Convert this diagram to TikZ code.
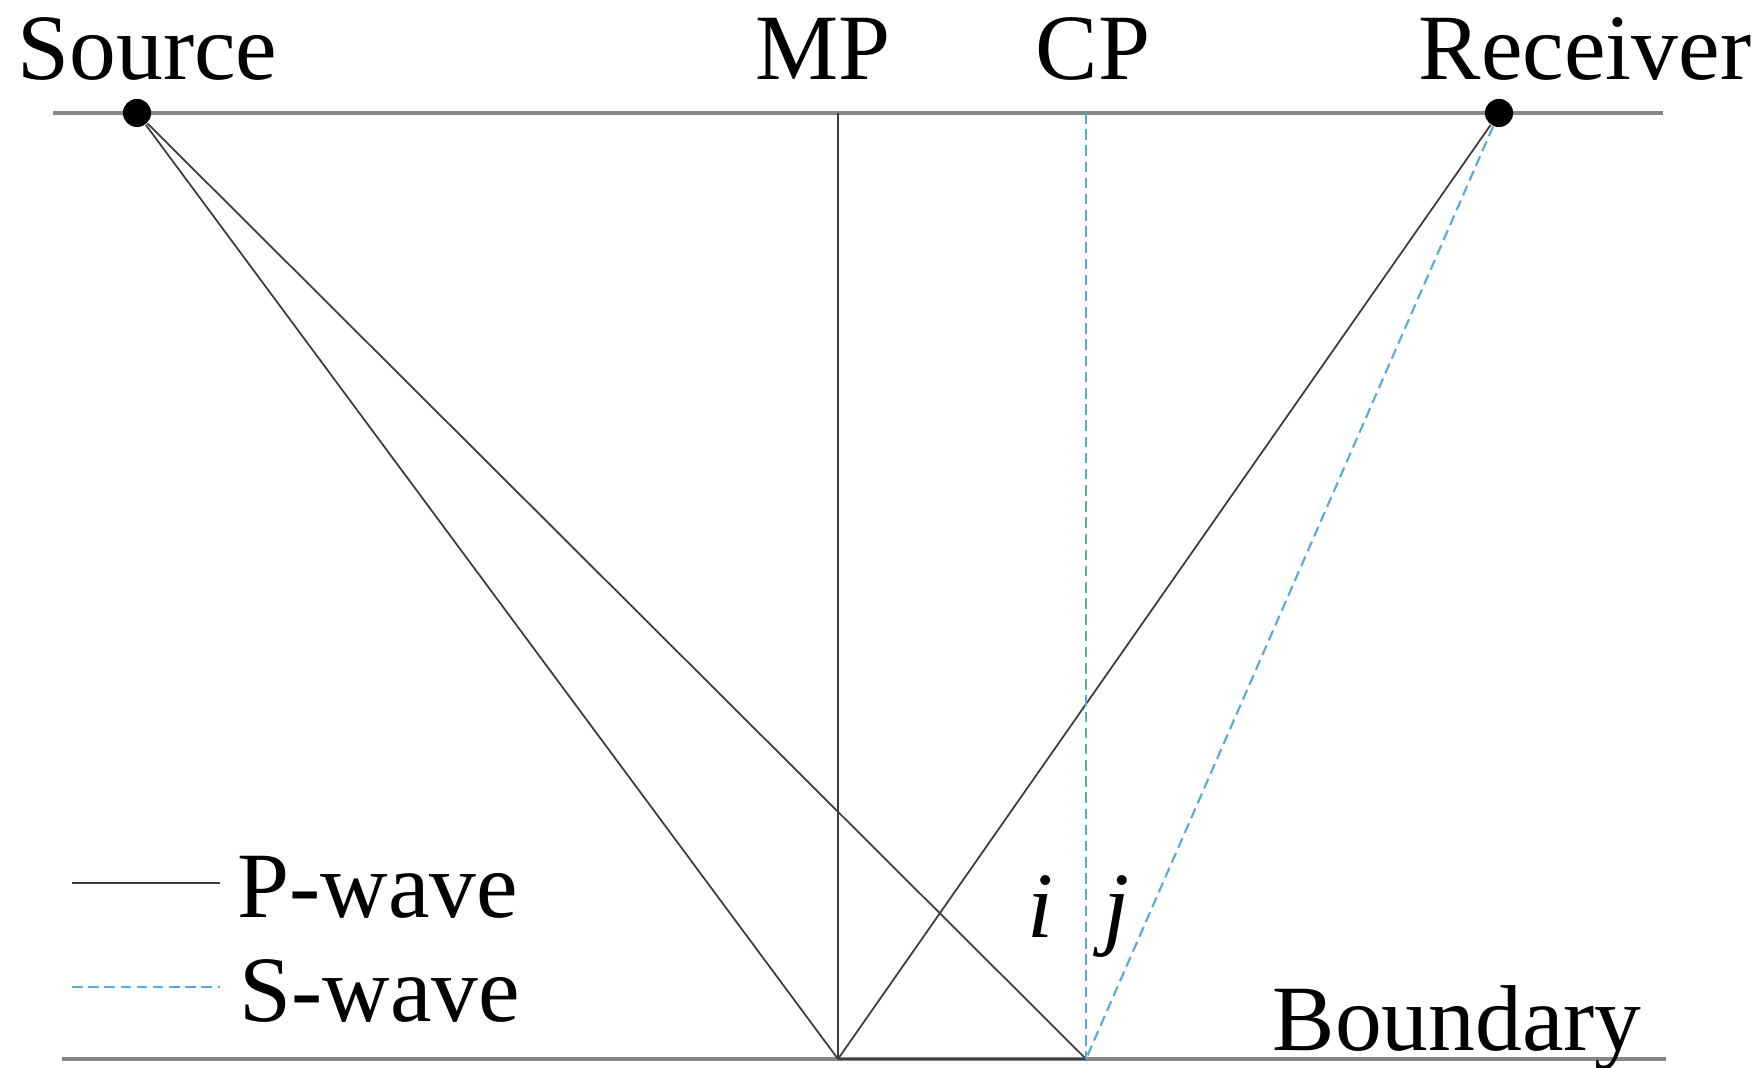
\documentclass[tikz,border=0pt]{standalone}
\usepackage{fontspec}
\setmainfont{Liberation Serif}
\usetikzlibrary{positioning}
\definecolor{ink}{RGB}{0,0,0}
\definecolor{raygrey}{RGB}{60,60,60}
\definecolor{rulegrey}{RGB}{135,135,135}
\definecolor{shear}{RGB}{88,170,215}

\begin{document}
\begin{tikzpicture}[x=0.01cm, y=-0.01cm,
    lbl/.style={anchor=base west, inner sep=0pt, font=\fontsize{26.6}{32}\selectfont, text=ink},
    surf/.style={draw=rulegrey, line width=0.9pt},
    pray/.style={draw=raygrey, line width=0.5pt},
    sray/.style={draw=shear, line width=0.6pt, dash pattern=on 3pt off 1.6pt},
    dot/.style={circle, fill=ink, inner sep=0pt, minimum size=8pt}
  ]
  \useasboundingbox (0,0) rectangle (1763,1068);
  % surface and boundary
  \coordinate (top-l) at (53,113);
  \coordinate (top-r) at (1663,113);
  \coordinate (bot-l) at (62,1059);
  \coordinate (bot-r) at (1666,1059);
  \coordinate (mp-t) at (838,113);
  \coordinate (mp-b) at (838,1059);
  \coordinate (cp-t) at (1086,113);
  \coordinate (cp-b) at (1086,1059);
  \draw[surf] (top-l) -- (top-r);
  \draw[surf] (bot-l) -- (bot-r);
  \node[dot] (src) at (137,113) {};
  \node[dot] (rcv) at (1499,113) {};
  % rays
  \draw[pray] (mp-t) -- (mp-b);
  \draw[pray] (src) -- (mp-b);
  \draw[pray] (src) -- (cp-b);
  \draw[pray] (rcv) -- (mp-b);
  \draw[pray] (mp-b) -- (cp-b);
  \draw[sray] (cp-t) -- (cp-b);
  \draw[sray] (rcv) -- (cp-b);
  % labels
  \node[lbl] (src-l) at (17,80) {Source};
  \node[lbl] (mp-l) at (755,80) {MP};
  \node[lbl] (cp-l) at (1035,80) {CP};
  \node[lbl] (rcv-l) at (1418,80) {Receiver};
  \node[lbl] (bnd-l) at (1272,1051) {Boundary};
  \node[lbl] (ang-i) at (1027,938) {\textit{i}};
  \node[lbl] (ang-j) at (1103,938) {\textit{j}};
  % legend
  \coordinate (pw-a) at (72,883);
  \coordinate (pw-b) at (220,883);
  \coordinate (sw-a) at (72,987);
  \coordinate (sw-b) at (220,987);
  \draw[pray] (pw-a) -- (pw-b);
  \draw[sray] (sw-a) -- (sw-b);
  \node[lbl] (pw-l) at (237,918) {P-wave};
  \node[lbl] (sw-l) at (239,1022) {S-wave};
\end{tikzpicture}
\end{document}
